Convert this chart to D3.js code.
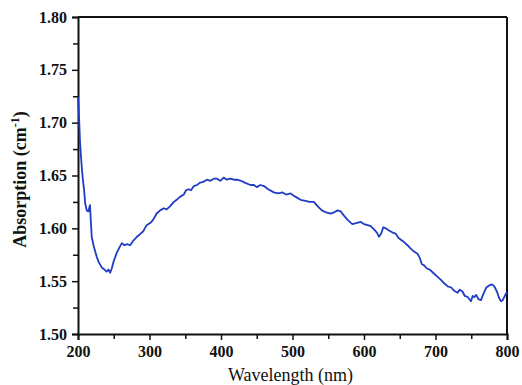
<!DOCTYPE html>
<html>
<head>
<meta charset="utf-8">
<script src="https://cdn.jsdelivr.net/npm/d3@7"></script>
<style>
  body { margin: 0; background: #fff; }
  svg { display: block; }
</style>
</head>
<body>
<div id="chart"></div>
<script>
// wavelength (nm) and absorption (cm^-1)
const wavelength = [
  200, 201.5, 202.8, 204.2, 205.6, 207, 208.4, 210, 212.2, 214.5, 216.8, 218, 219.2, 222, 226.2, 229,
  233.2, 237, 240, 242.5, 245, 247.2, 250, 254.3, 258, 261.3, 265, 269, 272.9, 277, 282.3,
  286, 291, 296, 300.9, 305, 310, 314.9, 320, 324, 329, 334, 338, 343, 348, 351, 354.6,
  358, 362, 366.4, 370, 375, 380.4, 385, 390, 394.5, 399, 403.7, 408, 413, 418, 422.5,
  428, 434, 441.1, 446, 450, 455.2, 460, 466, 473.8, 480, 486, 491, 497.2, 504, 511.2,
  518, 524, 529.9, 535, 541, 547, 553.3, 558, 563, 567.3, 572, 577, 583.7, 589, 595.4,
  600, 605, 609.4, 614, 618, 621, 624, 627, 630.4, 635, 640, 644.4, 648, 652, 656, 660.8,
  665, 670, 674.8, 678, 681, 684.1, 688, 692, 698.1, 703, 708, 712.1, 717, 722, 726, 730.9,
  734, 737.9, 741, 745, 749.6, 752, 754.2, 757, 760, 763.6, 767, 771, 775.2, 779, 782.3,
  786, 789, 791.6, 794, 797, 800
];
const absorption = [
  1.724, 1.705, 1.682, 1.668, 1.655, 1.645, 1.637, 1.624, 1.617, 1.616, 1.622, 1.606, 1.592, 1.583, 1.573, 1.568,
  1.563, 1.561, 1.559, 1.561, 1.558, 1.562, 1.569, 1.577, 1.582, 1.586, 1.584, 1.585, 1.584, 1.588, 1.592,
  1.594, 1.597, 1.603, 1.605, 1.608, 1.614, 1.617, 1.619, 1.618, 1.621, 1.625, 1.627, 1.630, 1.632, 1.636, 1.637,
  1.636, 1.640, 1.641, 1.643, 1.644, 1.646, 1.645, 1.647, 1.647, 1.645, 1.648, 1.646, 1.647, 1.646, 1.646,
  1.645, 1.643, 1.641, 1.641, 1.639, 1.641, 1.640, 1.637, 1.634, 1.633, 1.634, 1.632, 1.633, 1.630, 1.627,
  1.626, 1.625, 1.625, 1.621, 1.617, 1.615, 1.614, 1.615, 1.617, 1.616, 1.612, 1.608, 1.604, 1.605, 1.606,
  1.604, 1.603, 1.602, 1.599, 1.596, 1.592, 1.595, 1.601, 1.600, 1.598, 1.596, 1.595, 1.591, 1.589, 1.587, 1.584,
  1.581, 1.578, 1.576, 1.572, 1.566, 1.565, 1.562, 1.561, 1.557, 1.554, 1.551, 1.548, 1.545, 1.544, 1.541, 1.539,
  1.542, 1.540, 1.536, 1.535, 1.531, 1.536, 1.535, 1.537, 1.533, 1.532, 1.538, 1.544, 1.546, 1.547, 1.545,
  1.540, 1.534, 1.531, 1.532, 1.536, 1.540
];

const xTicks = [200, 300, 400, 500, 600, 700, 800];
const yTicks = [1.50, 1.55, 1.60, 1.65, 1.70, 1.75, 1.80];

const W = 522, H = 385;
const margin = { top: 17, right: 15, bottom: 51, left: 78 };
const width = W - margin.left - margin.right;
const height = H - margin.top - margin.bottom;

const svg = d3.select('#chart')
  .append('svg')
  .attr('width', W)
  .attr('height', H);

const g = svg.append('g')
  .attr('transform', `translate(${margin.left},${margin.top})`);

const x = d3.scaleLinear().domain([200, 800]).range([0, width]);
const y = d3.scaleLinear().domain([1.50, 1.80]).range([height, 0]);

const tickFont = '"Liberation Serif", "Times New Roman", serif';

// minor ticks first, major ticks drawn on top
g.append('g')
  .attr('transform', `translate(0,${height})`)
  .call(d3.axisBottom(x).tickValues(d3.range(250, 800, 100)).tickSize(5).tickFormat(''))
  .call(a => a.select('.domain').remove());

g.append('g')
  .call(d3.axisLeft(y).tickValues(d3.range(1.525, 1.80, 0.05)).tickSize(5).tickFormat(''))
  .call(a => a.select('.domain').remove());

const xAxis = g.append('g')
  .attr('transform', `translate(0,${height})`)
  .call(d3.axisBottom(x).tickValues(xTicks).tickSize(6).tickPadding(6).tickFormat(d3.format('d')));

const yAxis = g.append('g')
  .call(d3.axisLeft(y).tickValues(yTicks).tickSize(6).tickPadding(5).tickFormat(d3.format('.2f')));

[xAxis, yAxis].forEach(a => {
  a.selectAll('text')
    .attr('font-family', tickFont)
    .attr('font-weight', 'bold')
    .attr('font-size', '16px')
    .attr('fill', '#111');
  a.select('.domain').attr('stroke', '#111').attr('stroke-width', 2);
});
g.selectAll('.tick line').attr('stroke', '#111').attr('stroke-width', 1.5);

// frame: top and right
g.append('line')
  .attr('x1', 0).attr('x2', width).attr('y1', 0).attr('y2', 0)
  .attr('stroke', '#111').attr('stroke-width', 2);
g.append('line')
  .attr('x1', width).attr('x2', width).attr('y1', 0).attr('y2', height)
  .attr('stroke', '#111').attr('stroke-width', 2);

const points = wavelength.map((w, i) => ({ w, a: absorption[i] }));

const line = d3.line()
  .x(d => x(d.w))
  .y(d => y(d.a));

g.append('path')
  .datum(points)
  .attr('d', line)
  .attr('fill', 'none')
  .attr('stroke', '#1f3cc4')
  .attr('stroke-width', 1.8)
  .attr('stroke-linejoin', 'round');

svg.append('text')
  .attr('x', margin.left + width / 2 - 2)
  .attr('y', H - 4)
  .attr('text-anchor', 'middle')
  .attr('font-family', tickFont)
  .attr('font-size', '18px')
  .attr('fill', '#111')
  .text('Wavelength (nm)');

const yl = svg.append('text')
  .attr('transform', `translate(26,${margin.top + height / 2 + 4}) rotate(-90)`)
  .attr('text-anchor', 'middle')
  .attr('font-family', tickFont)
  .attr('font-weight', 'bold')
  .attr('font-size', '18px')
  .attr('fill', '#111');
yl.append('tspan').text('Absorption (cm');
yl.append('tspan').attr('dy', -7).attr('font-size', '12px').text('-1');
yl.append('tspan').attr('dy', 7).text(')');
</script>
</body>
</html>
